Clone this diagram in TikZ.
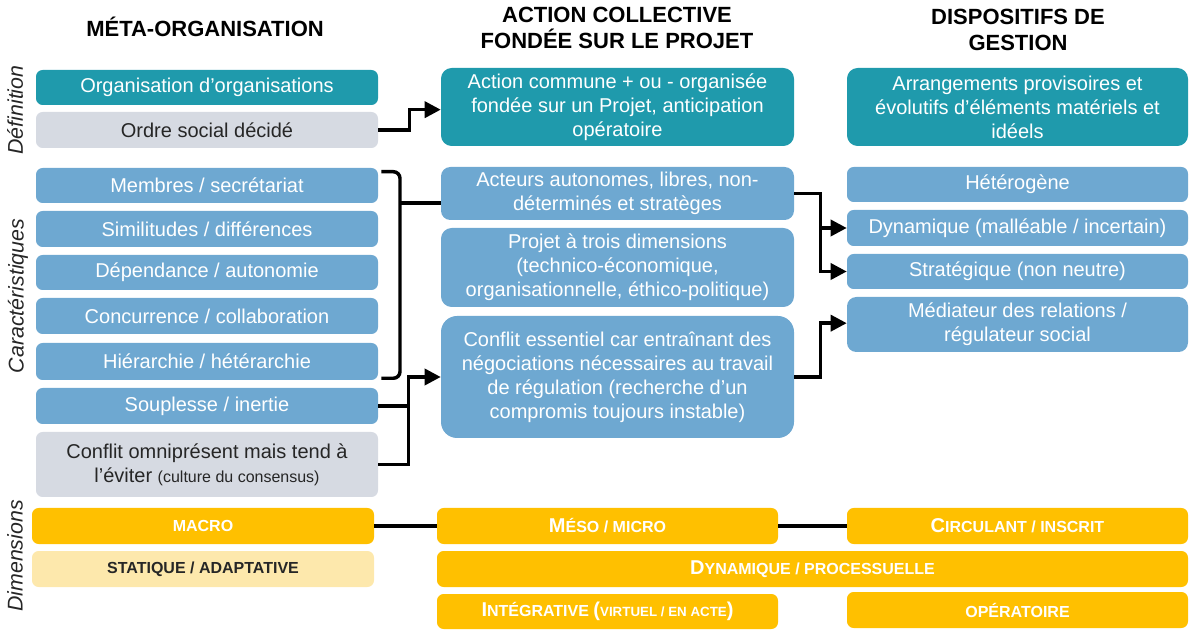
\documentclass[tikz,border=0pt]{standalone}
\usepackage{fontspec}
\setmainfont{Liberation Sans}
\usetikzlibrary{arrows.meta}
\definecolor{teal1}{HTML}{1F9AAC}
\definecolor{blue1}{HTML}{6EA8D1}
\definecolor{orng}{HTML}{FFC000}
\definecolor{grayp}{HTML}{D6DAE2}
\definecolor{orngp}{HTML}{FDE8AC}
\definecolor{txtd}{HTML}{262626}
\newcommand\bx[7]{\node[#6, minimum width={(#4-#2)*0.75pt}, minimum height={(#5-#3)*0.75pt}] (#1) at ({(#2+#4)/2},{(#3+#5)/2}) {#7};}
\newcommand\Bg[1]{{\fontsize{15}{18}\selectfont #1}}
\newcommand\Sm[1]{{\fontsize{10}{12}\selectfont #1}}
\begin{document}
\begin{tikzpicture}[x=0.75pt, y=-0.75pt,
  box/.style={rounded corners=5pt, inner sep=0pt, align=center, font=\fontsize{15}{18}\selectfont},
  tealb/.style={box, fill=teal1, text=white},
  blueb/.style={box, fill=blue1, text=white},
  grayb/.style={box, fill=grayp, text=txtd},
  orb/.style={box, fill=orng, text=white, font=\bfseries\fontsize{12}{14}\selectfont},
  orpb/.style={box, fill=orngp, text=txtd, font=\bfseries\fontsize{12}{14}\selectfont},
  hdr/.style={align=center, inner sep=0pt, font=\bfseries\fontsize{16.5}{20}\selectfont},
  side/.style={rotate=90, inner sep=0pt, text=txtd, font=\itshape\fontsize{16}{18}\selectfont},
  ln/.style={line width=2.6pt, black},
  arr/.style={ln, -{Triangle[length=12pt,width=12pt]}}]
\useasboundingbox (0,0) rectangle (1192,630);
% headers
\node[hdr] (h1) at (205,27) {MÉTA-ORGANISATION};
\node[hdr] (h2) at (617,28) {ACTION COLLECTIVE\\FONDÉE SUR LE PROJET};
\node[hdr] (h3) at (1018,30) {DISPOSITIFS DE\\GESTION};
% side labels
\node[side] (s1) at (15,110) {Définition};
\node[side] (s2) at (18,296) {Caractéristiques};
\node[side] (s3) at (15,556) {Dimensions};
% left column
\bx{orga}{36}{70}{378}{105}{tealb}{Organisation d’organisations}
\bx{ordre}{36}{112}{378}{148}{grayb}{Ordre social décidé}
\bx{membres}{36}{168}{378}{203}{blueb}{Membres / secrétariat}
\bx{simil}{36}{211}{378}{247}{blueb}{Similitudes / différences}
\bx{depend}{36}{255}{378}{290}{blueb}{Dépendance / autonomie}
\bx{concur}{36}{298}{378}{334}{blueb}{Concurrence / collaboration}
\bx{hier}{36}{343}{378}{380}{blueb}{Hiérarchie / hétérarchie}
\bx{soupl}{36}{388}{378}{424}{blueb}{Souplesse / inertie}
\bx{confomni}{36}{432}{378}{497}{grayb}{Conflit omniprésent mais tend à\\l’éviter {\fontsize{12}{14}\selectfont(culture du consensus)}}
\bx{macro}{32}{508}{374}{544}{orb}{MACRO}
\bx{statique}{32}{551}{374}{587}{orpb}{STATIQUE / ADAPTATIVE}
% middle column
\bx{action}{441}{68}{794}{146}{tealb, rounded corners=8pt}{Action commune + ou - organisée\\fondée sur un Projet, anticipation\\opératoire}
\bx{acteurs}{441}{167}{794}{220}{blueb, rounded corners=7pt}{Acteurs autonomes, libres, non-\\déterminés et stratèges}
\bx{projet}{441}{228}{794}{307}{blueb, rounded corners=8pt}{Projet à trois dimensions\\(technico-économique,\\organisationnelle, éthico-politique)}
\bx{conflit}{441}{316}{794}{438}{blueb, rounded corners=12pt}{Conflit essentiel car entraînant des\\négociations nécessaires au travail\\de régulation (recherche d’un\\compromis toujours instable)}
\bx{meso}{437}{508}{778}{544}{orb}{\Bg{M}ÉSO / MICRO}
\bx{dynproc}{437}{551}{1188}{587}{orb}{\Bg{D}YNAMIQUE / PROCESSUELLE}
\bx{integr}{437}{594}{778}{629}{orb}{\Bg{I}NTÉGRATIVE \Bg{(}\Sm{VIRTUEL / EN ACTE}\Bg{)}}
% right column
\bx{arrang}{847}{68}{1188}{146}{tealb, rounded corners=8pt}{Arrangements provisoires et\\évolutifs d’éléments matériels et\\idéels}
\bx{hetero}{847}{167}{1188}{202}{blueb}{Hétérogène}
\bx{dynam}{847}{210}{1188}{246}{blueb}{Dynamique (malléable / incertain)}
\bx{strat}{847}{254}{1188}{289}{blueb}{Stratégique (non neutre)}
\bx{mediat}{847}{297}{1188}{352}{blueb, rounded corners=7pt}{Médiateur des relations /\\régulateur social}
\bx{circul}{847}{508}{1188}{544}{orb}{\Bg{C}IRCULANT / INSCRIT}
\bx{operat}{847}{592}{1188}{628}{orb}{OPÉRATOIRE}
% connectors
\draw[arr] (ordre.east) -- ++(31,0) |- ([yshift=-2pt]action.west);
\draw[ln, rounded corners=5pt] ([shift={(3,4)}]membres.north east) -| (400,290) |- ([shift={(3,-2)}]hier.south east);
\coordinate (bk) at (400,203);
\draw[ln] (bk) -- (acteurs.west |- bk);
\draw[ln] (soupl.east) -- ++(30,0);
\draw[arr] (confomni.east) -- ++(30,0) |- (conflit.west);
\draw[arr] (acteurs.east) -- ++(26,0) |- (strat.west);
\draw[arr] (acteurs.east) ++(26,0) |- (dynam.west);
\draw[arr] (conflit.east) -- ++(26,0) |- ([yshift=1pt]mediat.west);
\draw[ln] (macro.east) -- (meso.west);
\draw[ln] (meso.east) -- (circul.west);
\end{tikzpicture}
\end{document}
